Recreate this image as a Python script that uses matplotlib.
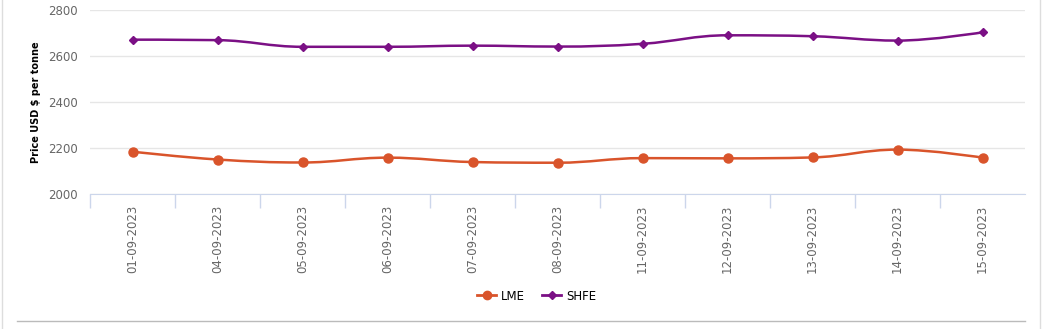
import numpy as np
import matplotlib.pyplot as plt
from matplotlib.path import Path
from matplotlib.patches import PathPatch
from matplotlib.lines import Line2D

# data
dates = ["01-09-2023", "04-09-2023", "05-09-2023", "06-09-2023", "07-09-2023",
         "08-09-2023", "11-09-2023", "12-09-2023", "13-09-2023", "14-09-2023",
         "15-09-2023"]
lme = [2184, 2150, 2137, 2158, 2139, 2136, 2156, 2155, 2159, 2193, 2158]
shfe = [2671, 2669, 2640, 2640, 2645, 2641, 2653, 2690, 2686, 2667, 2703]

LME_COLOR = "#d9542b"
SHFE_COLOR = "#7b1085"


def spline_path(xs, ys, smoothing=1.5):
    # highcharts-like spline: cubic bezier segments through each point
    denom = smoothing + 1
    n = len(xs)
    ctrl = []
    for i in range(n):
        if i == 0 or i == n - 1:
            ctrl.append(((xs[i], ys[i]), (xs[i], ys[i])))
            continue
        lx = (smoothing * xs[i] + xs[i - 1]) / denom
        ly = (smoothing * ys[i] + ys[i - 1]) / denom
        rx = (smoothing * xs[i] + xs[i + 1]) / denom
        ry = (smoothing * ys[i] + ys[i + 1]) / denom
        if rx != lx:
            corr = ((ry - ly) * (rx - xs[i])) / (rx - lx) + ys[i] - ry
            ly += corr
            ry += corr
        # keep control points from overshooting neighbours
        if ly > max(ys[i - 1], ys[i]):
            ly = max(ys[i - 1], ys[i]); ry = 2 * ys[i] - ly
        elif ly < min(ys[i - 1], ys[i]):
            ly = min(ys[i - 1], ys[i]); ry = 2 * ys[i] - ly
        if ry > max(ys[i + 1], ys[i]):
            ry = max(ys[i + 1], ys[i]); ly = 2 * ys[i] - ry
        elif ry < min(ys[i + 1], ys[i]):
            ry = min(ys[i + 1], ys[i]); ly = 2 * ys[i] - ry
        ctrl.append(((lx, ly), (rx, ry)))
    verts = [(xs[0], ys[0])]
    codes = [Path.MOVETO]
    for i in range(1, n):
        verts += [ctrl[i - 1][1], ctrl[i][0], (xs[i], ys[i])]
        codes += [Path.CURVE4] * 3
    return Path(verts, codes)


fig = plt.figure(figsize=(10.42, 3.29), dpi=100)
ax = fig.add_axes([90 / 1042, 1 - 194 / 329, 935 / 1042, 184 / 329])

x = np.arange(len(dates))
for vals, color, marker, ms in [(lme, LME_COLOR, "o", 6.5), (shfe, SHFE_COLOR, "D", 4.5)]:
    ax.add_patch(PathPatch(spline_path(x, vals), fill=False, edgecolor=color, lw=1.8, zorder=3))
    ax.plot(x, vals, ls="none", marker=marker, ms=ms, color=color, zorder=4)

ax.set_xlim(-0.5, len(dates) - 0.5)
ax.set_ylim(2000, 2800)
ax.set_yticks([2000, 2200, 2400, 2600, 2800])
ax.set_xticks(x)
ax.set_xticklabels(dates, rotation=90, fontsize=8.5, color="#666666")
ax.set_xticks(np.arange(len(dates)) - 0.5, minor=True)
ax.tick_params(axis="x", which="major", length=0, pad=8)
ax.tick_params(axis="x", which="minor", length=10, color="#ccd6eb", width=1)
ax.tick_params(axis="y", length=0, labelsize=8.5, labelcolor="#666666", pad=9)
ax.grid(axis="y", color="#e6e6e6", lw=1)
ax.set_axisbelow(True)
for side in ["top", "right", "left"]:
    ax.spines[side].set_visible(False)
ax.spines["bottom"].set_color("#ccd6eb")
ax.set_ylabel("Price USD $ per tonne", fontsize=7, fontweight="bold", labelpad=5)

handles = [Line2D([], [], color=LME_COLOR, lw=2, marker="o", ms=6),
           Line2D([], [], color=SHFE_COLOR, lw=2, marker="D", ms=4.5)]
fig.legend(handles, ["LME", "SHFE"], loc="center", bbox_to_anchor=(0.515, 1 - 296 / 329),
           ncol=2, frameon=False, fontsize=8.5, handlelength=1.6, columnspacing=1.5,
           handletextpad=0.4)

# outer frame lines like the source page
fig.add_artist(Line2D([2 / 1042, 2 / 1042], [0, 1], color="#dddddd", lw=1))
fig.add_artist(Line2D([1040 / 1042, 1040 / 1042], [0, 1], color="#dddddd", lw=1))
fig.add_artist(Line2D([17 / 1042, 1025 / 1042], [1 - 321 / 329, 1 - 321 / 329],
                      color="#bbbbbb", lw=1))

fig.savefig("out.png", dpi=100)
